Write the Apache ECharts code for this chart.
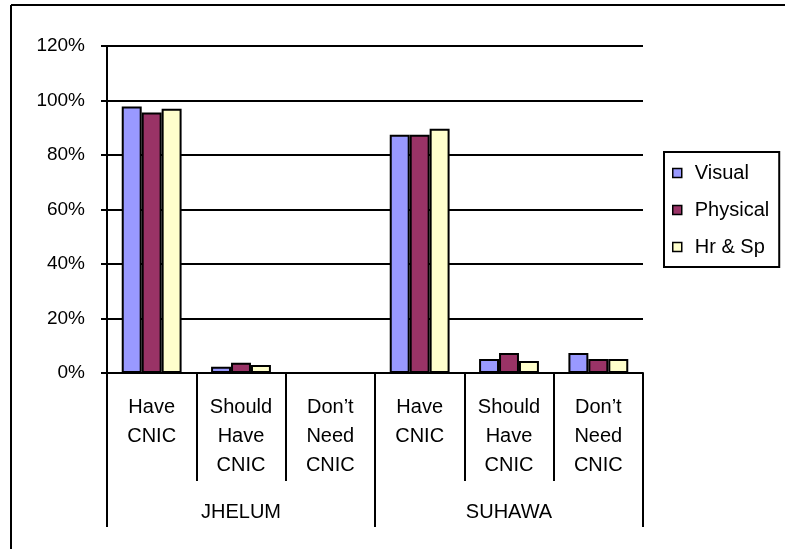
<!DOCTYPE html>
<html>
<head>
<meta charset="utf-8">
<script src="https://cdn.jsdelivr.net/npm/echarts@6/dist/echarts.min.js"></script>
<style>
  html, body { margin: 0; padding: 0; background: #fff; }
  #chart { width: 786px; height: 550px; }
</style>
</head>
<body>
<div id="chart"></div>
<script>
// CNIC status by disability type, two districts
const categories = [
  'Have\nCNIC', 'Should\nHave\nCNIC', 'Don\u2019t\nNeed\nCNIC',
  'Have\nCNIC', 'Should\nHave\nCNIC', 'Don\u2019t\nNeed\nCNIC'
];
const districts = ['JHELUM', 'SUHAWA'];
const seriesNames = ['Visual', 'Physical', 'Hr & Sp'];
const visual   = [97.8, 2.3, 0, 87.4, 5.1, 7.3];
const physical = [95.6, 3.8, 0, 87.4, 7.3, 5.1];
const hrSp     = [97.0, 2.9, 0, 89.6, 4.4, 5.1];
const yTicks = [0, 20, 40, 60, 80, 100, 120];

const FONT = '"Liberation Sans", Arial, sans-serif';
const colors = ['#9999FF', '#993366', '#FFFFCC'];
const values = [visual, physical, hrSp];

const chart = echarts.init(document.getElementById('chart'), null, { renderer: 'canvas' });

chart.setOption({
  animation: false,
  backgroundColor: '#fff',
  textStyle: { fontFamily: FONT, color: '#000' },
  grid: { left: 107, right: 143, top: 46, bottom: 177, containLabel: false },
  legend: {
    orient: 'vertical',
    left: 664,
    top: 152,
    padding: [11, 10, 10, 8],
    itemGap: 17,
    itemWidth: 9,
    itemHeight: 9,
    borderColor: '#000',
    borderWidth: 2,
    icon: 'rect',
    itemStyle: { borderColor: '#000', borderWidth: 1.5 },
    textStyle: { fontFamily: FONT, fontSize: 20, color: '#000', lineHeight: 20, padding: [0, 0, 0, 8] },
    data: seriesNames
  },
  xAxis: [
    {
      type: 'category',
      data: categories,
      position: 'bottom',
      boundaryGap: true,
      axisLine: { show: true, lineStyle: { color: '#000', width: 2 } },
      axisTick: { show: true, interval: 0, length: 108, lineStyle: { color: '#000', width: 2 } },
      axisLabel: {
        interval: 0, margin: 20, fontFamily: FONT, fontSize: 20, color: '#000',
        lineHeight: 29, align: 'center', verticalAlign: 'top'
      },
      splitLine: { show: false }
    },
    {
      type: 'category',
      data: districts,
      position: 'bottom',
      offset: 0,
      boundaryGap: true,
      axisLine: { show: false },
      axisTick: { show: true, interval: 0, length: 154, lineStyle: { color: '#000', width: 2 } },
      axisLabel: {
        interval: 0, margin: 128, fontFamily: FONT, fontSize: 20, color: '#000',
        lineHeight: 22, verticalAlign: 'top'
      },
      splitLine: { show: false }
    }
  ],
  yAxis: {
    type: 'value',
    min: yTicks[0],
    max: yTicks[yTicks.length - 1],
    interval: 20,
    axisLine: { show: true, lineStyle: { color: '#000', width: 2 } },
    axisTick: { show: true, length: 6, lineStyle: { color: '#000', width: 2 } },
    axisLabel: {
      margin: 22, fontFamily: FONT, fontSize: 19, color: '#000',
      formatter: v => v + '%'
    },
    splitLine: { show: true, lineStyle: { color: '#000', width: 2 } }
  },
  series: seriesNames.map((name, i) => ({
    name,
    type: 'bar',
    xAxisIndex: 0,
    data: values[i],
    barGap: '0%',
    barCategoryGap: '33%',
    itemStyle: { color: colors[i], borderColor: '#000', borderWidth: 2 },
    emphasis: { disabled: true }
  })),
  graphic: [
    { type: 'line', shape: { x1: 11, y1: 5, x2: 785, y2: 5 }, style: { stroke: '#000', lineWidth: 2 }, silent: true },
    { type: 'line', shape: { x1: 11, y1: 5, x2: 11, y2: 549 }, style: { stroke: '#000', lineWidth: 2 }, silent: true }
  ]
});
</script>
</body>
</html>
